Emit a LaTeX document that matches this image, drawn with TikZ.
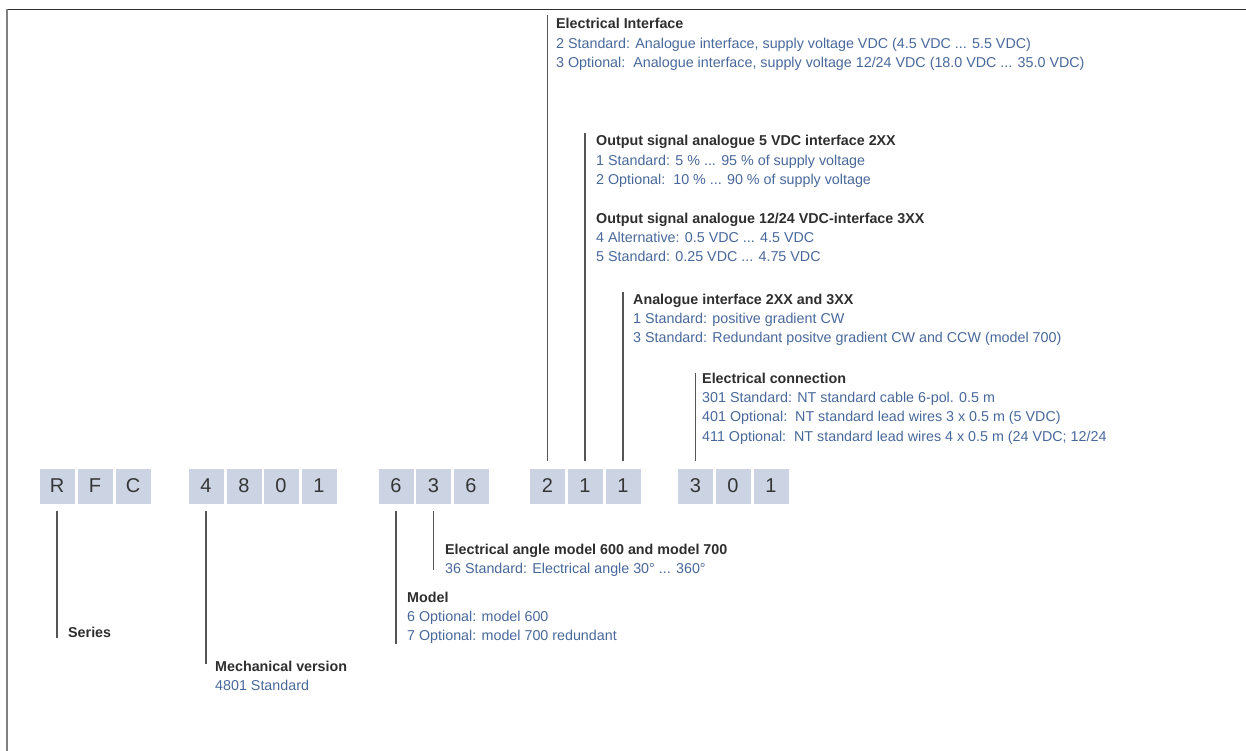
\documentclass[tikz,border=0pt]{standalone}
\usepackage{fontspec}
\setmainfont{Liberation Sans}
\definecolor{valblue}{HTML}{48689B}
\definecolor{ttlgray}{HTML}{2E2E2E}
\definecolor{boxfill}{HTML}{CCD4E4}
\definecolor{digitgray}{HTML}{353535}
\definecolor{leadgray}{HTML}{555555}
\newcommand{\ttl}[1]{{\bfseries\color{ttlgray}#1}}
\newcommand{\val}[1]{{\color{valblue}#1}}
\newcommand{\blk}[1]{\begin{tabular}[t]{@{}l@{}}#1\end{tabular}}
\begin{document}
\begin{tikzpicture}[x=1pt,y=-1pt,
  digit/.style={fill=boxfill,draw=none,minimum width=35pt,minimum height=35pt,inner sep=0pt,
    text=digitgray,font=\fontsize{20}{20}\selectfont},
  info/.style={anchor=base west,inner sep=0pt,font=\fontsize{14.3}{19.4}\selectfont},
  lead/.style={draw=leadgray,line width=1.1pt}]
\useasboundingbox (0,0) rectangle (1246,751);
% frame
\draw[draw=ttlgray,line width=1.4pt] (6,9.5) -- (1246,9.5);
\draw[draw=gray,line width=2pt] (6.5,9) -- (6.5,751);

% code boxes
\foreach \n/\c/\x in {dR/R/57,dF/F/95,dC/C/133,
  dA/4/206,dB/8/244,dD/0/281,dE/1/319,
  dG/6/396,dH/3/433.5,dI/6/471,
  dJ/2/547.5,dK/1/585,dL/1/623,
  dM/3/695.5,dN/0/733,dO/1/771}
  \node[digit] (\n) at (\x,486) {\c};

% texts above
\node[info] (ei) at (556,29) {\blk{\ttl{Electrical Interface}\\
  \val{2 Standard: Analogue interface, supply voltage VDC (4.5 VDC ... 5.5 VDC)}\\
  \val{3 Optional:\ \ Analogue interface, supply voltage 12/24 VDC (18.0 VDC ... 35.0 VDC)}}};
\node[info] (os5) at (596,146) {\blk{\ttl{Output signal analogue 5 VDC interface 2XX}\\
  \val{1 Standard: 5 \% ... 95 \% of supply voltage}\\
  \val{2 Optional:\ \ 10 \% ... 90 \% of supply voltage}}};
\node[info] (os12) at (596,223) {\blk{\ttl{Output signal analogue 12/24 VDC-interface 3XX}\\
  \val{4 Alternative: 0.5 VDC ... 4.5 VDC}\\
  \val{5 Standard: 0.25 VDC ... 4.75 VDC}}};
\node[info] (ai) at (633,304) {\blk{\ttl{Analogue interface 2XX and 3XX}\\
  \val{1 Standard: positive gradient CW}\\
  \val{3 Standard: Redundant positve gradient CW and CCW (model 700)}}};
\node[info] (ec) at (702,383) {\blk{\ttl{Electrical connection}\\
  \val{301 Standard: NT standard cable 6-pol. 0.5 m}\\
  \val{401 Optional:\ \ NT standard lead wires 3 x 0.5 m (5 VDC)}\\
  \val{411 Optional:\ \ NT standard lead wires 4 x 0.5 m (24 VDC; 12/24}}};

% texts below
\node[info] (ea) at (445,554) {\blk{\ttl{Electrical angle model 600 and model 700}\\
  \val{36 Standard: Electrical angle 30° ... 360°}}};
\node[info] (mo) at (407,602) {\blk{\ttl{Model}\\
  \val{6 Optional: model 600}\\
  \val{7 Optional: model 700 redundant}}};
\node[info] (se) at (68,637) {\blk{\ttl{Series}}};
\node[info] (mv) at (215,671) {\blk{\ttl{Mechanical version}\\
  \val{4801 Standard}}};

% leader lines
\coordinate (eiT) at (547.5,15);
\coordinate (osT) at (585,133);
\coordinate (aiT) at (623,292);
\coordinate (ecT) at (695.5,373);
\draw[lead] (eiT) -- ([yshift=7pt]dJ.north);
\draw[lead] (osT) -- ([yshift=7pt]dK.north);
\draw[lead] (aiT) -- ([yshift=7pt]dL.north);
\draw[lead] (ecT) -- ([yshift=7pt]dM.north);

\coordinate (seB) at (57,638);
\coordinate (mvB) at (206,664);
\coordinate (moB) at (396,644);
\coordinate (eaB) at (433.5,570);
\draw[lead] ([yshift=-7pt]dR.south) -- (seB);
\draw[lead] ([yshift=-7pt]dA.south) -- (mvB);
\draw[lead] ([yshift=-7pt]dG.south) -- (moB);
\draw[lead] ([yshift=-7pt]dH.south) -- (eaB);
\end{tikzpicture}
\end{document}
